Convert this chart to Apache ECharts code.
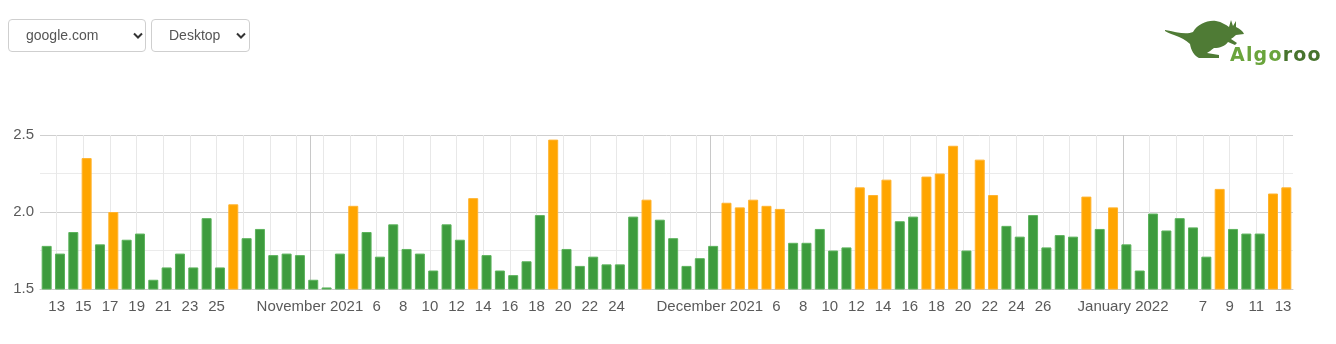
<!DOCTYPE html>
<html>
<head>
<meta charset="utf-8">
<script src="https://cdn.jsdelivr.net/npm/echarts@6/dist/echarts.min.js"></script>
<style>
  html, body { margin: 0; padding: 0; background: #fff; }
  body { width: 1336px; height: 344px; position: relative; overflow: hidden; font-family: "Liberation Sans", Arial, sans-serif; }
  #chart { position: absolute; left: 0; top: 0; width: 1336px; height: 344px; }
  .sel { position: absolute; top: 19px; height: 31px; border: 1px solid #cfcfcf; border-radius: 4px; background: #fff;
         font-size: 14px; color: #555; line-height: 31px; box-sizing: content-box; }
  .sel span { position: absolute; left: 17px; top: 0; }
  .sel svg { position: absolute; top: 12px; }
  #logo { position: absolute; left: 1160px; top: 18px; width: 176px; height: 52px; }
  #logotext { position: absolute; left: 1230px; top: 42px; font-family: "DejaVu Sans", sans-serif; font-weight: bold;
              font-size: 19px; letter-spacing: 1.2px; line-height: 24px; }
</style>
</head>
<body>
<div id="chart"></div>
<div class="sel" style="left:8px;width:136px;"><span>google.com</span>
  <svg width="10" height="8" style="left:124px"><polyline points="1,1.5 5,5.5 9,1.5" fill="none" stroke="#333" stroke-width="2"/></svg></div>
<div class="sel" style="left:151px;width:97px;"><span>Desktop</span>
  <svg width="10" height="8" style="left:84px"><polyline points="1,1.5 5,5.5 9,1.5" fill="none" stroke="#333" stroke-width="2"/></svg></div>
<svg id="logo" viewBox="1160 18 176 52">
  <path fill="#4f7b35" d="M1165,30 C1176,32 1186,35 1193,32 C1198,24 1207,20 1216,21 C1222,22 1226,25 1229,27 L1231,20 L1233,26 L1236,21 L1236,27 C1240,29 1243,31 1244,34 L1236,35 C1234,37 1232,38 1231,39 L1237,43 L1235,45 L1228,42 C1225,46 1220,48 1214,48 C1211,50 1209,52 1207,53 L1219,55 L1219,58 L1199,58 C1194,56 1191,50 1190,44 C1186,40 1180,37 1174,35 C1170,34 1167,32 1165,31 Z"/>
</svg>
<div id="logotext"><span style="color:#6aa43c">Algo</span><span style="color:#47742d">roo</span></div>
<script>
// ---- data ----
const dates = [
  '2021-10-12','2021-10-13','2021-10-14','2021-10-15','2021-10-16','2021-10-17','2021-10-18','2021-10-19','2021-10-20','2021-10-21',
  '2021-10-22','2021-10-23','2021-10-24','2021-10-25','2021-10-26','2021-10-27','2021-10-28','2021-10-29','2021-10-30','2021-10-31',
  '2021-11-01','2021-11-02','2021-11-03','2021-11-04','2021-11-05','2021-11-06','2021-11-07','2021-11-08','2021-11-09','2021-11-10',
  '2021-11-11','2021-11-12','2021-11-13','2021-11-14','2021-11-15','2021-11-16','2021-11-17','2021-11-18','2021-11-19','2021-11-20',
  '2021-11-21','2021-11-22','2021-11-23','2021-11-24','2021-11-25','2021-11-26','2021-11-27','2021-11-28','2021-11-29','2021-11-30',
  '2021-12-01','2021-12-02','2021-12-03','2021-12-04','2021-12-05','2021-12-06','2021-12-07','2021-12-08','2021-12-09','2021-12-10',
  '2021-12-11','2021-12-12','2021-12-13','2021-12-14','2021-12-15','2021-12-16','2021-12-17','2021-12-18','2021-12-19','2021-12-20',
  '2021-12-21','2021-12-22','2021-12-23','2021-12-24','2021-12-25','2021-12-26','2021-12-27','2021-12-28','2021-12-29','2021-12-30',
  '2021-12-31','2022-01-01','2022-01-02','2022-01-03','2022-01-04','2022-01-05','2022-01-06','2022-01-07','2022-01-08','2022-01-09',
  '2022-01-10','2022-01-11','2022-01-12','2022-01-13'
];
const valuesOct = [1.78,1.73,1.87,2.35,1.79,2.00,1.82,1.86,1.56,1.64,1.73,1.64,1.96,1.64,2.05,1.83,1.89,1.72,1.73,1.72];
const valuesNov = [1.56,1.51,1.73,2.04,1.87,1.71,1.92,1.76,1.73,1.62,1.92,1.82,2.09,1.72,1.62,1.59,1.68,1.98,2.47,1.76,
                   1.65,1.71,1.66,1.66,1.97,2.08,1.95,1.83,1.65,1.70];
const valuesDec = [1.78,2.06,2.03,2.08,2.04,2.02,1.80,1.80,1.89,1.75,1.77,2.16,2.11,2.21,1.94,1.97,2.23,2.25,2.43,1.75,
                   2.34,2.11,1.91,1.84,1.98,1.77,1.85,1.84,2.10,1.89,2.03];
const valuesJan = [1.79,1.62,1.99,1.88,1.96,1.90,1.71,2.15,1.89,1.86,1.86,2.12,2.16];
const threshold = 2.0;

// x tick labels (date -> text)
const xTickLabels = [
  ['2021-10-13','13'],['2021-10-15','15'],['2021-10-17','17'],['2021-10-19','19'],['2021-10-21','21'],['2021-10-23','23'],['2021-10-25','25'],
  ['2021-11-01','November 2021'],
  ['2021-11-06','6'],['2021-11-08','8'],['2021-11-10','10'],['2021-11-12','12'],['2021-11-14','14'],['2021-11-16','16'],
  ['2021-11-18','18'],['2021-11-20','20'],['2021-11-22','22'],['2021-11-24','24'],
  ['2021-12-01','December 2021'],
  ['2021-12-06','6'],['2021-12-08','8'],['2021-12-10','10'],['2021-12-12','12'],['2021-12-14','14'],['2021-12-16','16'],
  ['2021-12-18','18'],['2021-12-20','20'],['2021-12-22','22'],['2021-12-24','24'],['2021-12-26','26'],
  ['2022-01-01','January 2022'],
  ['2022-01-07','7'],['2022-01-09','9'],['2022-01-11','11'],['2022-01-13','13']
];
// light vertical grid lines (every two days) and month boundary lines
const gridDays = [
  '2021-10-13','2021-10-15','2021-10-17','2021-10-19','2021-10-21','2021-10-23','2021-10-25','2021-10-27','2021-10-29','2021-10-31',
  '2021-11-02','2021-11-04','2021-11-06','2021-11-08','2021-11-10','2021-11-12','2021-11-14','2021-11-16','2021-11-18','2021-11-20',
  '2021-11-22','2021-11-24','2021-11-26','2021-11-28','2021-11-30',
  '2021-12-02','2021-12-04','2021-12-06','2021-12-08','2021-12-10','2021-12-12','2021-12-14','2021-12-16','2021-12-18','2021-12-20',
  '2021-12-22','2021-12-24','2021-12-26','2021-12-28','2021-12-30',
  '2022-01-03','2022-01-05','2022-01-07','2022-01-09','2022-01-11','2022-01-13'
];
const monthStarts = ['2021-11-01','2021-12-01','2022-01-01'];
const yTicks = [1.5, 2.0, 2.5];

// ---- build ----
const values = valuesOct.concat(valuesNov, valuesDec, valuesJan);
const idx = d => dates.indexOf(d);
const BAR_OFFSET = 0.25;   // bars sit a quarter day after the day boundary
const labelMap = {};
xTickLabels.forEach(([d, t]) => { labelMap[idx(d)] = t; });

const chart = echarts.init(document.getElementById('chart'), null, { renderer: 'canvas' });
const font = '"Liberation Sans", Arial, sans-serif';
const xMin = -BAR_OFFSET, xMax = dates.length - BAR_OFFSET;
const styleHigh = { color: '#ffa500', borderColor: '#ffb32e', borderWidth: 1 };
const styleLow  = { color: '#3d9b3d', borderColor: '#5cb35c', borderWidth: 1 };

chart.setOption({
  animation: false,
  backgroundColor: '#fff',
  grid: { left: 40, right: 43, top: 135, bottom: 55, containLabel: false },
  xAxis: [
    {
      type: 'value', min: xMin, max: xMax,
      axisLine: { show: true, lineStyle: { color: '#c9c9c9', width: 1 } },
      axisTick: { show: false, customValues: gridDays.map(idx) },
      splitLine: { show: true, lineStyle: { color: '#e8e8e8', width: 1 } },
      axisLabel: {
        show: true, customValues: xTickLabels.map(([d]) => idx(d)),
        formatter: v => labelMap[Math.round(v)] || '',
        fontFamily: font, fontSize: 15, color: '#5a5a5a', margin: 10
      }
    },
    {
      type: 'value', min: xMin, max: xMax, position: 'bottom',
      axisLine: { show: false }, axisLabel: { show: false },
      axisTick: { show: false, customValues: monthStarts.map(idx) },
      splitLine: { show: true, lineStyle: { color: '#c8c8c8', width: 1 } }
    }
  ],
  yAxis: {
    type: 'value', min: yTicks[0], max: yTicks[yTicks.length - 1], interval: yTicks[1] - yTicks[0],
    axisLine: { show: false }, axisTick: { show: false },
    splitLine: { show: true, lineStyle: { color: '#cfcfcf' } },
    minorTick: { show: false, splitNumber: 2 },
    minorSplitLine: { show: true, lineStyle: { color: '#ebebeb' } },
    axisLabel: { formatter: v => v.toFixed(1), fontFamily: font, fontSize: 15, color: '#5a5a5a', margin: 6 }
  },
  series: [{
    type: 'bar', xAxisIndex: 0,
    barWidth: 10,
    data: values.map((v, i) => ({ value: [i + BAR_OFFSET, v], itemStyle: v >= threshold ? styleHigh : styleLow }))
  }]
});
</script>
</body>
</html>
